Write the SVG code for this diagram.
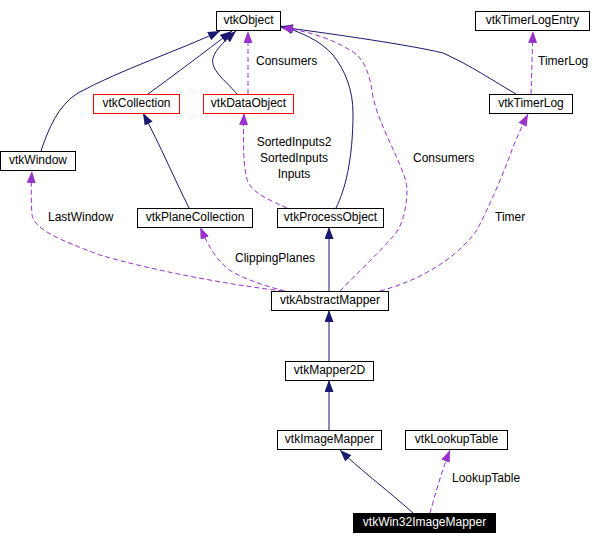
<svg xmlns="http://www.w3.org/2000/svg" width="601" height="544" viewBox="0 0 601 544">
<defs>
<marker id="an" markerUnits="userSpaceOnUse" markerWidth="13" markerHeight="9" refX="12" refY="4.5" orient="auto"><path d="M0,0 L12,4.5 L0,9 z" fill="#191970"/></marker>
<marker id="ap" markerUnits="userSpaceOnUse" markerWidth="13" markerHeight="9" refX="12" refY="4.5" orient="auto"><path d="M0,0 L12,4.5 L0,9 z" fill="#9a32cd"/></marker>
</defs>
<style>
rect{fill:#fff;stroke:#000;stroke-width:1}
.red{stroke:#ff0000}
.hl{fill:#000}
text{font-family:"Liberation Sans",Arial,sans-serif;font-size:12px;fill:#000}
.n{text-anchor:middle}
.w{fill:#fff}
.s{fill:none;stroke:#191970;stroke-width:1;marker-end:url(#an)}
.d{fill:none;stroke:#9a32cd;stroke-width:1;stroke-dasharray:5,3;marker-end:url(#ap)}
</style>
<rect x="0" y="0" width="601" height="544" style="fill:#fff;stroke:none"/>
<g id="edges">
<path class="s" d="M41,151 C48,130 58,105 78,93 C120,70 180,50 220,31"/>
<path class="s" d="M148,94 C170,78 205,52 232,31"/>
<path class="s" d="M237,94 C225,80 210,70 213,58 C216,48 228,38 236,31"/>
<path class="d" d="M248,94 L248,31"/>
<path class="s" d="M336,208 C345,190 353,160 353,113 C353,90 345,70 333,55 C320,40 300,32 281,26"/>
<path class="s" d="M516,94 C495,82 470,65 443,53 C410,45 340,35 281,27"/>
<path class="d" stroke="#9a32cd" d="M340,291 C358,272 380,252 396,233 C405,220 407,200 407,190 C407,170 380,130 373,97 C370,75 365,58 350,50 C330,38 305,30 281,28"/>
<path class="d" d="M531,94 L533,31"/>
<path class="d" d="M380,291 C420,280 455,260 477,230 C490,205 505,170 513,147 C518,135 523,124 528,114"/>
<path class="d" d="M283,291 C230,285 150,270 100,255 C60,240 35,230 32,215 C31,200 31,185 32,171"/>
<path class="d" d="M285,291 C260,285 235,275 227,268 C215,258 208,245 200,227"/>
<path class="s" d="M329,291 L329,227"/>
<path class="d" d="M287,208 C270,200 255,195 248,182 C243,170 243,140 244,113"/>
<path class="s" d="M189,208 C175,180 160,145 143,113"/>
<path class="s" d="M329,361 L329,310"/>
<path class="s" d="M329,430 L329,380"/>
<path class="s" d="M413,513 C395,497 380,485 368,475 C360,468 350,460 340,450"/>
<path class="d" d="M430,513 C435,495 442,470 450,450"/>
<text x="256" y="65">Consumers</text>
<text x="413" y="162">Consumers</text>
<text x="538" y="65">TimerLog</text>
<text class="n" x="294" y="146">SortedInputs2</text>
<text class="n" x="294" y="162">SortedInputs</text>
<text class="n" x="294" y="178">Inputs</text>
<text x="48" y="221">LastWindow</text>
<text x="235" y="262">ClippingPlanes</text>
<text x="495" y="221">Timer</text>
<text x="452" y="482">LookupTable</text>
</g>
<g id="vtkObject"><rect x="216.5" y="11.5" width="64" height="19"/><text class="n" x="248.5" y="24">vtkObject</text></g>
<g id="vtkTimerLogEntry"><rect x="475.5" y="11.5" width="114" height="19"/><text class="n" x="532.5" y="24">vtkTimerLogEntry</text></g>
<g id="vtkCollection"><rect class="red" x="93.5" y="94.5" width="86" height="19"/><text class="n" x="136.5" y="107">vtkCollection</text></g>
<g id="vtkDataObject"><rect class="red" x="203.5" y="94.5" width="90" height="19"/><text class="n" x="248.5" y="107">vtkDataObject</text></g>
<g id="vtkTimerLog"><rect x="489.5" y="94.5" width="83" height="19"/><text class="n" x="531" y="107">vtkTimerLog</text></g>
<g id="vtkWindow"><rect x="0.5" y="151.5" width="75" height="19"/><text class="n" x="38" y="164">vtkWindow</text></g>
<g id="vtkPlaneCollection"><rect x="137.5" y="208.5" width="115" height="19"/><text class="n" x="195" y="221">vtkPlaneCollection</text></g>
<g id="vtkProcessObject"><rect x="277.5" y="208.5" width="106" height="19"/><text class="n" x="330.5" y="221">vtkProcessObject</text></g>
<g id="vtkAbstractMapper"><rect x="271.5" y="291.5" width="117" height="19"/><text class="n" x="330" y="304">vtkAbstractMapper</text></g>
<g id="vtkMapper2D"><rect x="285.5" y="361.5" width="88" height="19"/><text class="n" x="329.5" y="374">vtkMapper2D</text></g>
<g id="vtkImageMapper"><rect x="277.5" y="430.5" width="104" height="19"/><text class="n" x="329.5" y="443">vtkImageMapper</text></g>
<g id="vtkLookupTable"><rect x="405.5" y="430.5" width="102" height="19"/><text class="n" x="456.5" y="443">vtkLookupTable</text></g>
<g id="vtkWin32ImageMapper"><rect class="hl" x="353.5" y="513.5" width="142" height="19"/><text class="n w" x="424.5" y="526">vtkWin32ImageMapper</text></g>
</svg>
